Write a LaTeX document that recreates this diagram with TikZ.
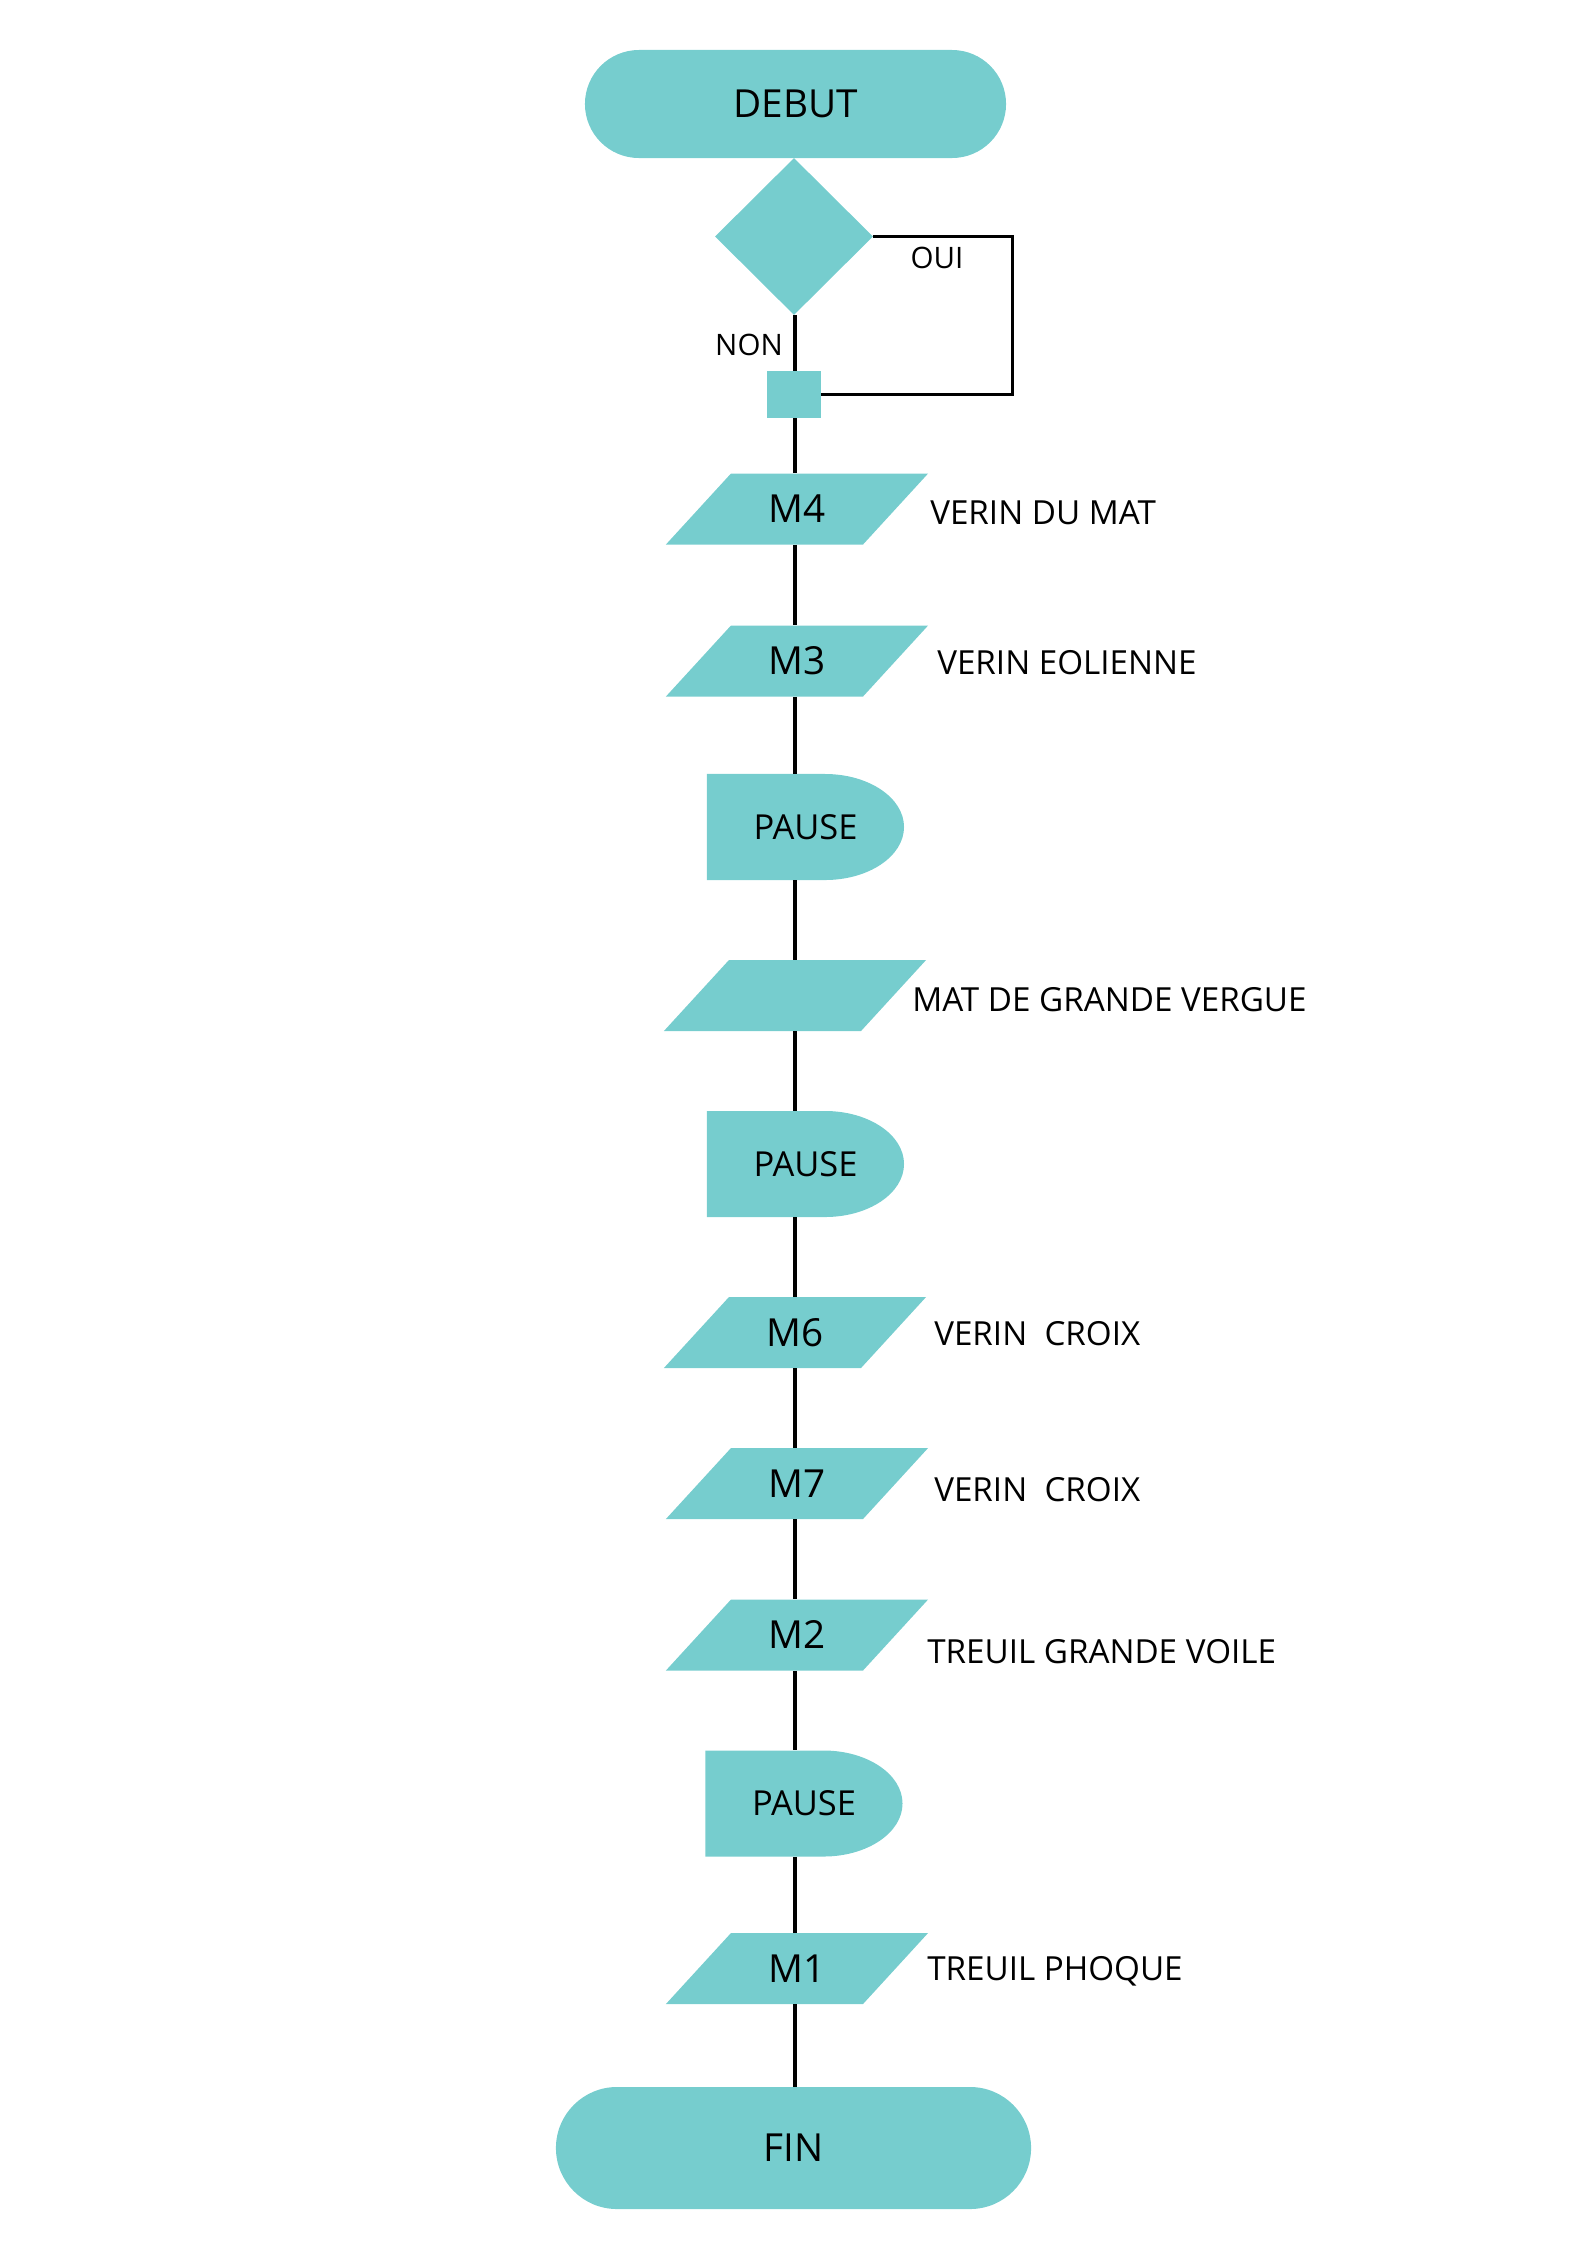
\documentclass[tikz,border=0pt]{standalone}
\usepackage{fontspec}
\setmainfont{Open Sans}
\usetikzlibrary{shapes.geometric,shapes.misc}
\definecolor{FillStep}{RGB}{118,205,206}

\begin{document}
\begin{tikzpicture}[x=0.025cm, y=-0.025cm,
        term/.style={rounded rectangle, fill=FillStep, inner sep=0pt, font=\fontsize{27.5pt}{33pt}\selectfont},
        test/.style={diamond, fill=FillStep, inner sep=0pt, minimum width=3.95cm, minimum height=3.925cm},
        joint/.style={rectangle, fill=FillStep, inner sep=0pt, minimum width=1.35cm, minimum height=1.175cm},
        io/.style={trapezium, trapezium left angle=47.5, trapezium right angle=132.5,
            fill=FillStep, inner sep=0pt, text width=3.3cm, align=center, text height=1.225cm, text depth=0.55cm,
            font=\fontsize{27.5pt}{33pt}\selectfont},
        pausebox/.style={rectangle, inner sep=0pt, minimum width=4.925cm, minimum height=2.65cm, font=\fontsize{24.5pt}{29pt}\selectfont,
            path picture={\fill[FillStep] (path picture bounding box.north west) -- ++(2.95cm,0)
                arc[start angle=90, end angle=-90, x radius=1.975cm, y radius=1.325cm] -- (path picture bounding box.south west) -- cycle;}},
        note/.style={anchor=base west, inner sep=0pt, font=\fontsize{23.6pt}{28pt}\selectfont},
        tag/.style={inner sep=0pt, font=\fontsize{21pt}{25pt}\selectfont},
        link/.style={line width=2.5pt}
    ]
        \useasboundingbox (0,0) rectangle (1587,2245);
        \coordinate (spine) at (795,0);

        \node[term, minimum width=10.525cm, minimum height=2.7cm] (debut) at (795.5,104) {DEBUT};
        \node[test]     (dec)    at (794,236.5) {};
        \node[joint]    (sq)     at (794,394.5) {};
        \node[io]       (m4)     at (797,509)   {M4};
        \node[io]       (m3)     at (797,661)   {M3};
        \node[pausebox] (pause1) at (805.5,827) {PAUSE};
        \node[io]       (vergue) at (795,995.5) {};
        \node[pausebox] (pause2) at (805.5,1164) {PAUSE};
        \node[io]       (m6)     at (795,1332.5) {M6};
        \node[io]       (m7)     at (797,1483.5) {M7};
        \node[io]       (m2)     at (797,1635)  {M2};
        \node[pausebox] (pause3) at (804,1803.5) {PAUSE};
        \node[io]       (m1)     at (797,1968.5) {M1};
        \node[term, minimum width=11.875cm, minimum height=3.05cm] (fin) at (793.5,2148) {FIN};

        \node[tag] (oui) at (937,258) {OUI};
        \node[tag] (non) at (749,345) {NON};

        \node[note] (lm4)     at (930,524)  {VERIN DU MAT};
        \node[note] (lm3)     at (937,674)  {VERIN EOLIENNE};
        \node[note] (lvergue) at (912,1011) {MAT DE GRANDE VERGUE};
        \node[note] (lm6)     at (934,1345) {VERIN\ \ CROIX};
        \node[note] (lm7)     at (934,1501) {VERIN\ \ CROIX};
        \node[note] (lm2)     at (927,1663) {TREUIL GRANDE VOILE};
        \node[note] (lm1)     at (927,1980) {TREUIL PHOQUE};

        \foreach \a/\b in {dec/sq, sq/m4, m4/m3, m3/pause1, pause1/vergue, vergue/pause2, pause2/m6,
                m6/m7, m7/m2, m2/pause3, pause3/m1, m1/fin}
            \draw[link] (\a.south -| spine) -- (\b.north -| spine);
        \draw[link] (dec.east) -- ++(139,0) |- (sq.east);
\end{tikzpicture}
\end{document}
